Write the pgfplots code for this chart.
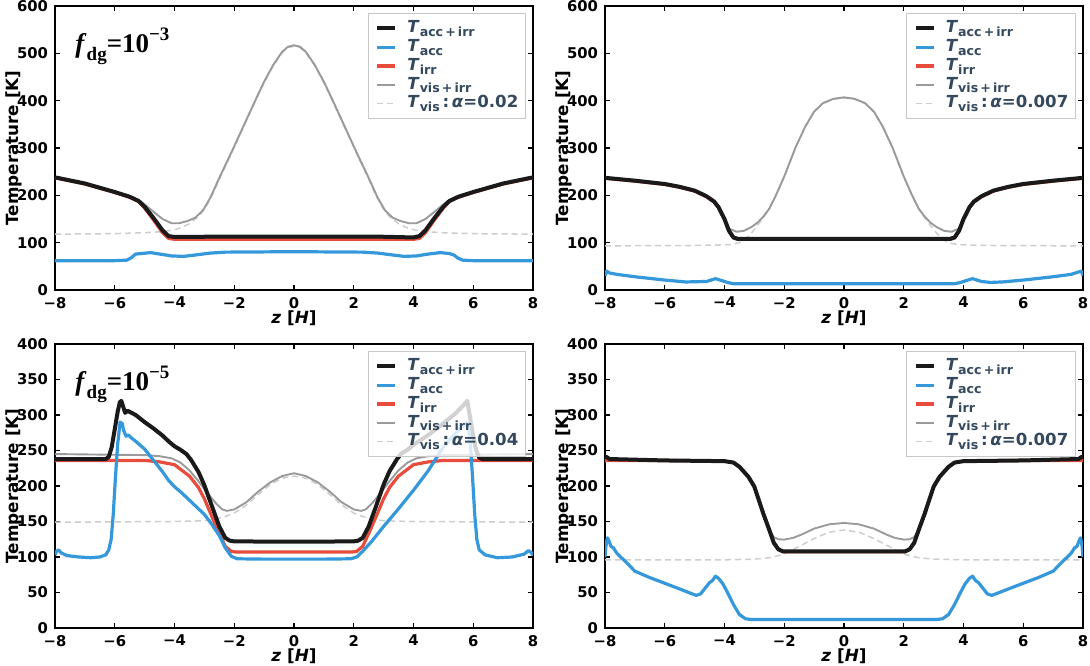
\documentclass[border=0pt]{standalone}
\usepackage{fontspec}
\setmainfont{DejaVu Sans}
\newfontfamily\timesfont{Liberation Serif}
\usepackage{pgfplots}
\pgfplotsset{compat=1.18}

\definecolor{cblack}{HTML}{1A1A1A}
\definecolor{cblue}{HTML}{3498DB}
\definecolor{cred}{HTML}{E74C3C}
\definecolor{cgray}{HTML}{9A9A9A}
\definecolor{clight}{HTML}{CDCDCD}
\definecolor{ctext}{HTML}{34495E}
\definecolor{cframe}{HTML}{C8C8C8}

% subscript in the legend labels
\newcommand{\lsub}[1]{\raisebox{-0.24em}{\fontsize{6.3}{7}\selectfont #1}}
\newcommand{\TT}[1]{\textit{T}\lsub{#1}}
% panel label
\newcommand{\fdg}[1]{{\timesfont\bfseries\fontsize{13.5}{15}\selectfont\textit{f}\raisebox{-0.3em}{\fontsize{9.5}{10}\selectfont dg}=10\raisebox{0.45em}{\fontsize{9.5}{10}\selectfont −#1}}}

\pgfplotsset{
  panel/.style={
    scale only axis, width=239pt, height=142pt,
    anchor=south west,
    xmin=-8, xmax=8,
    xtick={-8,-6,-4,-2,0,2,4,6,8},
    xticklabels={−8,−6,−4,−2,0,2,4,6,8},
    tick align=inside, tick pos=both,
    xticklabel pos=lower, yticklabel pos=left,
    major tick length=2.6pt,
    every tick/.style={black, line width=0.7pt},
    axis line style={line width=0.75pt},
    ticklabel style={font=\fontsize{7.4}{8}\selectfont\bfseries},
    /pgf/number format/assume math mode=true,
    xlabel={\textbf{\textit{z} [\textit{H}]}},
    ylabel={\textbf{Temperature [K]}},
    label style={font=\fontsize{8.4}{10}\selectfont},
    xlabel style={at={(axis description cs:0.5,0)}, anchor=north, yshift=-10pt, inner sep=0pt},
    ylabel style={at={(axis description cs:-0.068,0.5)}, anchor=south, inner sep=0pt},
    legend cell align=left,
    legend image code/.code={\draw[##1] (0pt,0pt) -- (9pt,0pt);},
    legend style={at={(0.985,0.975)}, anchor=north east,
      draw=cframe, line width=0.5pt, fill=white, fill opacity=0.8, text opacity=1,
      text=ctext, font=\fontsize{8.3}{9}\selectfont\bfseries,
      inner xsep=3.5pt, inner ysep=3pt,
      nodes={inner sep=0pt, text height=6.5pt, text depth=2.3pt},
      column sep=5pt, row sep=0.6pt},
  },
  lblack/.style={cblack, line width=2pt, line join=round},
  lblue/.style={cblue, line width=1.6pt, line join=round},
  lred/.style={cred, line width=1.6pt, line join=round},
  lgray/.style={cgray, line width=0.95pt, line join=round},
  ldash/.style={clight, line width=0.75pt, dash pattern=on 3pt off 2pt},
}

\newcommand{\legendset}[1]{%
  \addlegendimage{lblack}\addlegendentry{\TT{acc\,+\,irr}}
  \addlegendimage{lblue}\addlegendentry{\TT{acc}}
  \addlegendimage{lred}\addlegendentry{\TT{irr}}
  \addlegendimage{lgray}\addlegendentry{\TT{vis\,+\,irr}}
  \addlegendimage{ldash}\addlegendentry{\TT{vis}\,:\,\textit{α}=#1}
}

\begin{document}
\begin{tikzpicture}
\useasboundingbox (0,0) rectangle (545pt,332.5pt);

% ---------------- f_dg = 1e-3, alpha = 0.02 ----------------
\begin{axis}[panel, at={(27.5pt,187.5pt)}, ymin=0, ymax=600, ytick={0,100,...,600}]
\legendset{0.02}
\addplot[ldash, forget plot] coordinates {(-8,118)(-6,119)(-5,121)(-4.5,123)(-4.1,126)(-3.8,131)(-3.5,140)(-3.2,155)(-2.95,175)(-2.7,205)(-2.5,234)(-2.1,288)(-1.7,343)(-1.3,398)(-1,438)(-0.7,473)(-0.4,501)(-0.2,512)(0,515)(0.2,512)(0.4,501)(0.7,473)(1,438)(1.3,398)(1.7,343)(2.1,288)(2.5,234)(2.7,205)(2.95,175)(3.2,155)(3.5,140)(3.8,131)(4.1,126)(4.5,123)(5,121)(6,119)(8,118)};
\addplot[lgray, forget plot] coordinates {(-8,239)(-7,226)(-6,208)(-5.5,198)(-5.2,190)(-5,181)(-4.7,165)(-4.4,150)(-4.1,141)(-3.85,141)(-3.55,146)(-3.3,153)(-3.05,168)(-2.8,195)(-2.5,237)(-2.1,290)(-1.7,345)(-1.3,400)(-1.0,440)(-0.7,475)(-0.4,503)(-0.2,514)(0,517)(0.2,514)(0.4,503)(0.7,475)(1.0,440)(1.3,400)(1.7,345)(2.1,290)(2.5,237)(2.8,195)(3.05,168)(3.3,153)(3.55,146)(3.85,141)(4.1,141)(4.4,150)(4.7,165)(5,181)(5.2,190)(5.5,198)(6,208)(7,226)(8,239)};
\addplot[lred, forget plot] coordinates {(-8,237)(-7,224)(-6,206)(-5.5,196)(-5.2,187)(-5,173)(-4.7,148)(-4.4,121)(-4.2,109)(-4,107)(-2,107)(0,107)(2,107)(4,107)(4.2,109)(4.4,121)(4.7,148)(5,173)(5.2,187)(5.5,196)(6,206)(7,224)(8,237)};
\addplot[lblack, forget plot] coordinates {(-8,238)(-7,225)(-6,207)(-5.5,197)(-5.2,188)(-5,176)(-4.7,152)(-4.4,126)(-4.2,114)(-4,112)(-3,112.5)(-2,113)(0,113)(2,113)(3,112.5)(4,111)(4.2,114)(4.4,126)(4.7,152)(5,176)(5.2,188)(5.5,197)(6,207)(7,225)(8,238)};
\addplot[lblue, forget plot] coordinates {(-8,62)(-6,62)(-5.6,63)(-5.45,68)(-5.3,76)(-5.1,77)(-4.8,79)(-4.5,76)(-4.1,72)(-3.7,71)(-3.3,74)(-2.8,78)(-2.3,80)(-1,80.5)(0,81)(1,80.5)(2.3,80)(2.8,78)(3.3,74)(3.7,71)(4.1,72)(4.5,76)(4.9,79)(5.2,77)(5.35,74)(5.5,67)(5.65,63)(6,62)(8,62)};
\node[anchor=base west, inner sep=0pt] at (rel axis cs:0.042,0.835) {\fdg{3}};
\end{axis}

% ---------------- alpha = 0.007 ----------------
\begin{axis}[panel, at={(302.5pt,187.5pt)}, ymin=0, ymax=600, ytick={0,100,...,600}]
\legendset{0.007}
\addplot[ldash, forget plot] coordinates {(-8,93)(-6,94)(-5,94)(-4.2,95)(-3.8,96)(-3.5,100)(-3.3,108)(-3.1,120)(-2.9,136)(-2.7,153)(-2.5,171)(-2.28,199)(-2,239)(-1.63,299)(-1.3,344)(-1,376)(-0.7,394)(-0.35,403)(0,406)(0.35,403)(0.7,394)(1,376)(1.3,344)(1.63,299)(2,239)(2.28,199)(2.5,171)(2.7,153)(2.9,136)(3.1,120)(3.3,108)(3.5,100)(3.8,96)(4.2,95)(5,94)(6,94)(8,93)};
\addplot[lgray, forget plot] coordinates {(-8,237)(-7,231)(-6,224)(-5.5,218)(-5,210)(-4.6,198)(-4.35,187)(-4.2,175)(-4.05,152)(-3.85,130)(-3.6,123)(-3.35,125)(-3.1,133)(-2.9,142)(-2.7,155)(-2.5,172)(-2.28,200)(-2.0,240)(-1.63,300)(-1.3,345)(-1.0,377)(-0.7,395)(-0.35,404)(0,407)(0.35,404)(0.7,395)(1.0,377)(1.3,345)(1.63,300)(2.0,240)(2.28,200)(2.5,172)(2.7,155)(2.9,142)(3.1,133)(3.35,125)(3.6,123)(3.85,130)(4.05,152)(4.2,175)(4.35,187)(4.6,198)(5,210)(5.5,218)(6,224)(7,231)(8,237)};
\addplot[lred, forget plot] coordinates {(-8,236)(-7,230)(-6,223)(-5.5,217)(-5,209)(-4.6,197)(-4.35,186)(-4.2,174)(-4,149)(-3.85,124)(-3.7,110)(-3.55,107)(0,107)(3.55,107)(3.7,110)(3.85,124)(4,149)(4.2,174)(4.35,186)(4.6,197)(5,209)(5.5,217)(6,223)(7,230)(8,236)};
\addplot[lblack, forget plot] coordinates {(-8,237)(-7,231)(-6,224)(-5.5,218)(-5,210)(-4.6,198)(-4.35,187)(-4.2,175)(-4,150)(-3.85,125)(-3.7,111)(-3.55,108)(0,108)(3.55,108)(3.7,111)(3.85,125)(4,150)(4.2,175)(4.35,187)(4.6,198)(5,210)(5.5,218)(6,224)(7,231)(8,237)};
\addplot[lblue, forget plot] coordinates {(-8,30)(-7.95,40)(-7.85,36)(-7.6,33)(-7,28)(-6,21)(-5.3,17)(-4.6,18)(-4.45,21)(-4.3,24)(-4.15,21)(-3.9,16)(-3.7,13)(0,13)(3.7,13)(3.9,16)(4.15,21)(4.3,24)(4.45,21)(4.6,18)(4.9,16)(5.3,17)(6,21)(7,28)(7.6,33)(7.85,38)(7.95,40)(8,30)};
\end{axis}

% ---------------- f_dg = 1e-5, alpha = 0.04 ----------------
\begin{axis}[panel, at={(27.5pt,18.5pt)}, ymin=0, ymax=400, ytick={0,50,...,400}]
\legendset{0.04}
\addplot[ldash, forget plot] coordinates {(-8,149)(-4,150)(-3,151)(-2.6,154)(-2.3,157)(-2.0,162)(-1.6,173)(-1.2,188)(-0.8,202)(-0.4,211)(0,214)(0.4,211)(0.8,202)(1.2,188)(1.6,173)(2.0,162)(2.3,157)(2.6,154)(3,151)(4,150)(8,149)};
\addplot[lgray, forget plot] coordinates {(-8,245)(-6,244)(-5,243.5)(-4.5,242)(-4.1,239)(-3.8,233)(-3.5,222)(-3.2,207)(-2.9,190)(-2.6,175)(-2.4,167)(-2.25,165)(-2.0,167)(-1.6,177)(-1.2,192)(-0.8,205)(-0.4,214)(0,218)(0.4,214)(0.8,205)(1.2,192)(1.6,177)(2.0,167)(2.25,165)(2.4,167)(2.6,175)(2.9,190)(3.2,207)(3.5,222)(3.8,233)(4.1,239)(4.5,242)(5,243.5)(6,244)(8,245)};
\addplot[lred, forget plot] coordinates {(-8,236)(-5,236)(-4.5,234)(-4,230)(-3.5,214)(-3.2,198)(-3.0,182)(-2.75,157)(-2.5,133)(-2.3,115)(-2.1,108)(-1.95,107)(0,107)(1.95,107)(2.1,108)(2.3,115)(2.5,133)(2.75,157)(3,182)(3.2,198)(3.5,214)(4,230)(4.5,234)(5,236)(8,236)};
\addplot[lblack, forget plot] coordinates {(-8,238)(-6.3,238)(-6.2,241)(-6.1,255)(-6.0,280)(-5.9,305)(-5.83,318)(-5.78,320)(-5.72,312)(-5.65,303)(-5.58,306)(-5.48,304)(-5.3,300)(-5.0,290)(-4.7,281)(-4.4,271)(-4.2,263)(-4.0,256)(-3.8,251)(-3.6,245)(-3.45,237)(-3.2,220)(-3.0,201)(-2.75,172)(-2.5,143)(-2.3,127)(-2.15,123)(-2.0,122)(0,121.5)(2.0,122)(2.15,123)(2.3,127)(2.5,143)(2.75,172)(3.0,202)(3.2,221)(3.45,238)(3.6,246)(3.8,251)(4.0,258)(4.5,272)(5.0,288)(5.4,302)(5.7,315)(5.8,320)(5.88,300)(6.0,270)(6.1,250)(6.2,240)(6.3,238)(8,238)};
\addplot[lblue, forget plot] coordinates {(-8,103)(-7.95,108)(-7.88,110)(-7.8,106)(-7.6,102)(-7.2,100)(-6.8,99)(-6.5,100)(-6.3,103)(-6.2,110)(-6.12,125)(-6.05,160)(-5.98,210)(-5.9,260)(-5.82,290)(-5.75,288)(-5.7,278)(-5.62,270)(-5.55,272)(-5.45,268)(-5.3,263)(-5.0,252)(-4.7,236)(-4.4,220)(-4.2,208)(-4.0,199)(-3.75,190)(-3.5,180)(-3.25,170)(-3.0,160)(-2.75,146)(-2.5,130)(-2.3,113)(-2.1,101)(-1.9,97.5)(-1,97)(0,97)(1,97)(1.9,97.5)(2.1,100)(2.3,108)(2.6,122)(3.0,143)(3.5,168)(4.0,194)(4.5,222)(5.0,255)(5.4,274)(5.7,286)(5.82,290)(5.9,262)(5.98,210)(6.05,160)(6.12,125)(6.2,110)(6.4,103)(6.8,99)(7.3,100)(7.7,104)(7.85,109)(7.95,106)(8,102)};
\node[anchor=base west, inner sep=0pt] at (rel axis cs:0.042,0.835) {\fdg{5}};
\end{axis}

% ---------------- alpha = 0.007 ----------------
\begin{axis}[panel, at={(302.5pt,18.5pt)}, ymin=0, ymax=400, ytick={0,50,...,400}]
\legendset{0.007}
\addplot[ldash, forget plot] coordinates {(-8,96)(-4,96)(-3,97)(-2.5,99)(-2,104)(-1.5,115)(-1,126)(-0.5,135)(0,138)(0.5,135)(1,126)(1.5,115)(2,104)(2.5,99)(3,97)(4,96)(8,96)};
\addplot[lgray, forget plot] coordinates {(-8,240)(-7.95,241)(-7.85,238)(-6,236)(-4,235)(-3.7,233)(-3.5,227)(-3.2,213)(-3.0,199)(-2.7,162)(-2.5,139)(-2.35,128)(-2.2,125)(-2.0,124.5)(-1.7,127)(-1.4,132)(-1.0,140)(-0.5,146)(0,148)(0.5,146)(1.0,140)(1.4,132)(1.7,127)(2.0,124.5)(2.2,125)(2.35,128)(2.5,139)(2.7,162)(3.0,199)(3.2,213)(3.5,227)(3.7,233)(4,235)(6,236)(7.85,238)(7.95,241)(8,240)};
\addplot[lred, forget plot] coordinates {(-8,236)(-6,236)(-4,235)(-3.7,233)(-3.5,227)(-3.2,213)(-3.0,199)(-2.7,161)(-2.5,138)(-2.35,120)(-2.2,111)(-2.05,107.5)(0,107.5)(2.05,107.5)(2.2,111)(2.35,120)(2.5,138)(2.7,161)(3.0,199)(3.2,213)(3.5,227)(3.7,233)(4,235)(6,236)(8,236)};
\addplot[lblack, forget plot] coordinates {(-8,240)(-7.95,241)(-7.85,238)(-6,236)(-4,235)(-3.7,233)(-3.5,227)(-3.2,213)(-3.0,199)(-2.7,161)(-2.5,138)(-2.35,120)(-2.2,111)(-2.05,108)(0,108)(2.05,108)(2.2,111)(2.35,120)(2.5,138)(2.7,161)(3.0,199)(3.2,213)(3.5,227)(3.7,233)(4,235)(6,236)(7.85,238)(7.95,241)(8,240)};
\addplot[lblue, forget plot] coordinates {(-8,100)(-7.97,115)(-7.92,127)(-7.86,122)(-7.8,115)(-7.72,113)(-7.6,105)(-7.3,93)(-7,80)(-6.5,71)(-6,63)(-5.5,55)(-5.2,50)(-4.95,46)(-4.8,48)(-4.65,56)(-4.5,64)(-4.4,67)(-4.3,73)(-4.2,70)(-4.05,62)(-3.9,50)(-3.7,33)(-3.5,19)(-3.3,13)(-3.1,12)(0,12)(3.1,12)(3.3,13)(3.5,19)(3.7,33)(3.9,50)(4.05,62)(4.2,70)(4.3,73)(4.4,67)(4.5,64)(4.65,56)(4.8,48)(4.95,46)(5.2,50)(5.5,55)(6,63)(6.5,71)(7,80)(7.3,93)(7.6,105)(7.72,113)(7.8,115)(7.86,122)(7.92,127)(7.97,115)(8,100)};
\end{axis}
\end{tikzpicture}
\end{document}
